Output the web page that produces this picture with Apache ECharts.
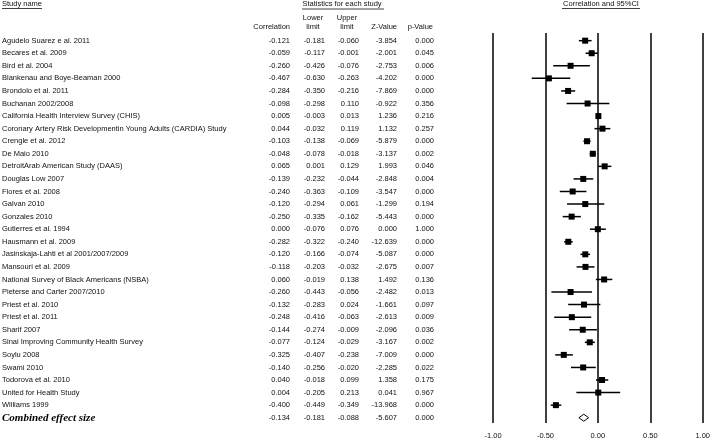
<!DOCTYPE html>
<html>
<head>
<meta charset="utf-8">
<script src="https://cdn.jsdelivr.net/npm/echarts@6/dist/echarts.min.js"></script>
<style>html,body{margin:0;padding:0;background:#fff}#c{width:713px;height:441px}</style>
</head>
<body>
<div id="c"></div>
<script>
const studies = ["Agudelo Suarez e al. 2011","Becares et al. 2009","Bird et al. 2004","Blankenau and Boye-Beaman 2000","Brondolo et al. 2011","Buchanan 2002/2008","California Health Interview Survey (CHIS)","Coronary Artery Risk Developmentin Young Adults (CARDIA) Study","Crengle et al. 2012","De Maio 2010","DetroitArab American Study (DAAS)","Douglas Low 2007","Flores et al. 2008","Galvan 2010","Gonzales 2010","Gutierres et al. 1994","Hausmann et al. 2009","Jasinskaja-Lahti et al 2001/2007/2009","Mansouri et al. 2009","National Survey of Black Americans (NSBA)","Pieterse and Carter 2007/2010","Priest et al. 2010","Priest et al. 2011","Sharif 2007","Sinai Improving Community Health Survey","Soylu 2008","Swami 2010","Todorova et al. 2010","United for Health Study","Williams 1999"];
const correlation = [-0.121,-0.059,-0.260,-0.467,-0.284,-0.098,0.005,0.044,-0.103,-0.048,0.065,-0.139,-0.240,-0.120,-0.250,0.000,-0.282,-0.120,-0.118,0.060,-0.260,-0.132,-0.248,-0.144,-0.077,-0.325,-0.140,0.040,0.004,-0.400];
const lowerLimit = [-0.181,-0.117,-0.426,-0.630,-0.350,-0.298,-0.003,-0.032,-0.138,-0.078,0.001,-0.232,-0.363,-0.294,-0.335,-0.076,-0.322,-0.166,-0.203,-0.019,-0.443,-0.283,-0.416,-0.274,-0.124,-0.407,-0.256,-0.018,-0.205,-0.449];
const upperLimit = [-0.060,-0.001,-0.076,-0.263,-0.216,0.110,0.013,0.119,-0.069,-0.018,0.129,-0.044,-0.109,0.061,-0.162,0.076,-0.240,-0.074,-0.032,0.138,-0.056,0.024,-0.063,-0.009,-0.029,-0.238,-0.020,0.099,0.213,-0.349];
const zValue = [-3.854,-2.001,-2.753,-4.202,-7.869,-0.922,1.236,1.132,-5.879,-3.137,1.993,-2.848,-3.547,-1.299,-5.443,0.000,-12.639,-5.087,-2.675,1.492,-2.482,-1.661,-2.613,-2.096,-3.167,-7.009,-2.285,1.358,0.041,-13.968];
const pValue = [0.000,0.045,0.006,0.000,0.000,0.356,0.216,0.257,0.000,0.002,0.046,0.004,0.000,0.194,0.000,1.000,0.000,0.000,0.007,0.136,0.013,0.097,0.009,0.036,0.002,0.000,0.022,0.175,0.967,0.000];
const combinedLabel = "Combined effect size";
const combined = {correlation: -0.134, lower: -0.181, upper: -0.088, z: -5.607, p: 0.000};
const xTicks = [-1, -0.5, 0, 0.5, 1];

const FONT = "Liberation Sans, Arial, sans-serif";
const FS = 7.5;
const COL = "#111";

const rows = studies.map((s, i) => [correlation[i], i, lowerLimit[i], upperLimit[i], zValue[i], pValue[i]]);
const combRow = [combined.correlation, studies.length, combined.lower, combined.upper, combined.z, combined.p];

const chart = echarts.init(document.getElementById('c'));
function fmt(v){ return v.toFixed(3); }

function tableItem(params, api, name, bold) {
  const i = api.value(1);
  const y = api.coord([0, i])[1];
  const vals = [api.value(0), api.value(2), api.value(3), api.value(4), api.value(5)];
  const xs = [290, 325, 359, 397, 434];
  const children = [];
  if (bold) {
    children.push({type:'text', style:{text:name, x:2, y:y, textVerticalAlign:'middle', font:'italic bold 11px "Liberation Serif", serif', fill:'#000'}});
  } else {
    children.push({type:'text', style:{text:name, x:2, y:y, textVerticalAlign:'middle', font:FS+'px '+FONT, fill:COL}});
  }
  vals.forEach((v, k) => {
    children.push({type:'text', style:{text:fmt(v), x:xs[k], y:y, textAlign:'right', textVerticalAlign:'middle', font:FS+'px '+FONT, fill:COL}});
  });
  return {type:'group', children};
}

const headerFont = FS + 'px ' + FONT;
const graphics = [
  {type:'text', left:2, top:0, style:{text:'Study name', font:headerFont, fill:COL}},
  {type:'line', shape:{x1:2, y1:8.5, x2:42, y2:8.5}, style:{stroke:COL, lineWidth:0.8}},
  {type:'text', x:342, y:4, style:{text:'Statistics for each study', textAlign:'center', textVerticalAlign:'middle', font:headerFont, fill:COL}},
  {type:'line', shape:{x1:302, y1:9, x2:384, y2:9}, style:{stroke:COL, lineWidth:0.8}},
  {type:'text', x:290, y:27, style:{text:'Correlation', textAlign:'right', textVerticalAlign:'middle', font:headerFont, fill:COL}},
  {type:'text', x:313, y:18, style:{text:'Lower', textAlign:'center', textVerticalAlign:'middle', font:headerFont, fill:COL}},
  {type:'text', x:313, y:27, style:{text:'limit', textAlign:'center', textVerticalAlign:'middle', font:headerFont, fill:COL}},
  {type:'text', x:347, y:18, style:{text:'Upper', textAlign:'center', textVerticalAlign:'middle', font:headerFont, fill:COL}},
  {type:'text', x:347, y:27, style:{text:'limit', textAlign:'center', textVerticalAlign:'middle', font:headerFont, fill:COL}},
  {type:'text', x:397, y:27, style:{text:'Z-Value', textAlign:'right', textVerticalAlign:'middle', font:headerFont, fill:COL}},
  {type:'text', x:433, y:27, style:{text:'p-Value', textAlign:'right', textVerticalAlign:'middle', font:headerFont, fill:COL}},
  {type:'text', x:601, y:4, style:{text:'Correlation and 95%CI', textAlign:'center', textVerticalAlign:'middle', font:headerFont, fill:COL}},
  {type:'line', shape:{x1:562, y1:8.5, x2:640, y2:8.5}, style:{stroke:COL, lineWidth:0.8}}
];

chart.setOption({
  animation: false,
  backgroundColor: '#fff',
  graphic: graphics,
  grid: {left: 493, right: 8, top: 33, bottom: 18},
  xAxis: {
    type: 'value', min: xTicks[0], max: xTicks[xTicks.length-1], interval: 0.5,
    axisLine: {show: false}, axisTick: {show: false},
    splitLine: {show: true, showMinLine: true, showMaxLine: true, lineStyle: {color: '#000', width: 1.5}},
    axisLabel: {fontSize: FS, fontFamily: FONT, color: COL, margin: 9, formatter: v => v.toFixed(2), showMinLabel: true, showMaxLabel: true}
  },
  yAxis: {
    type: 'value', inverse: true, min: -0.61, max: 30.42, show: false
  },
  series: [
    {
      type: 'custom', clip: false, silent: true, data: rows,
      renderItem: function(params, api) {
        const c = api.coord([api.value(0), api.value(1)]);
        const l = api.coord([api.value(2), api.value(1)]);
        const u = api.coord([api.value(3), api.value(1)]);
        const s = 6;
        return {type:'group', children:[
          {type:'line', shape:{x1:l[0], y1:c[1], x2:u[0], y2:c[1]}, style:{stroke:'#000', lineWidth:1.5}},
          {type:'rect', shape:{x:c[0]-s/2, y:c[1]-s/2, width:s, height:s}, style:{fill:'#000'}}
        ]};
      }
    },
    {
      type: 'custom', clip: false, silent: true, data: [combRow],
      renderItem: function(params, api) {
        const c = api.coord([api.value(0), api.value(1)]);
        const l = api.coord([api.value(2), api.value(1)]);
        const u = api.coord([api.value(3), api.value(1)]);
        const h = 3.5;
        return {type:'polygon', shape:{points:[[l[0], c[1]], [c[0], c[1]-h], [u[0], c[1]], [c[0], c[1]+h]]}, style:{fill:'#fff', stroke:'#000', lineWidth:1}};
      }
    },
    {
      type: 'custom', clip: false, silent: true, data: rows,
      renderItem: function(params, api) { return tableItem(params, api, studies[params.dataIndex], false); }
    },
    {
      type: 'custom', clip: false, silent: true, data: [combRow],
      renderItem: function(params, api) { return tableItem(params, api, combinedLabel, true); }
    }
  ]
});
</script>
</body>
</html>
